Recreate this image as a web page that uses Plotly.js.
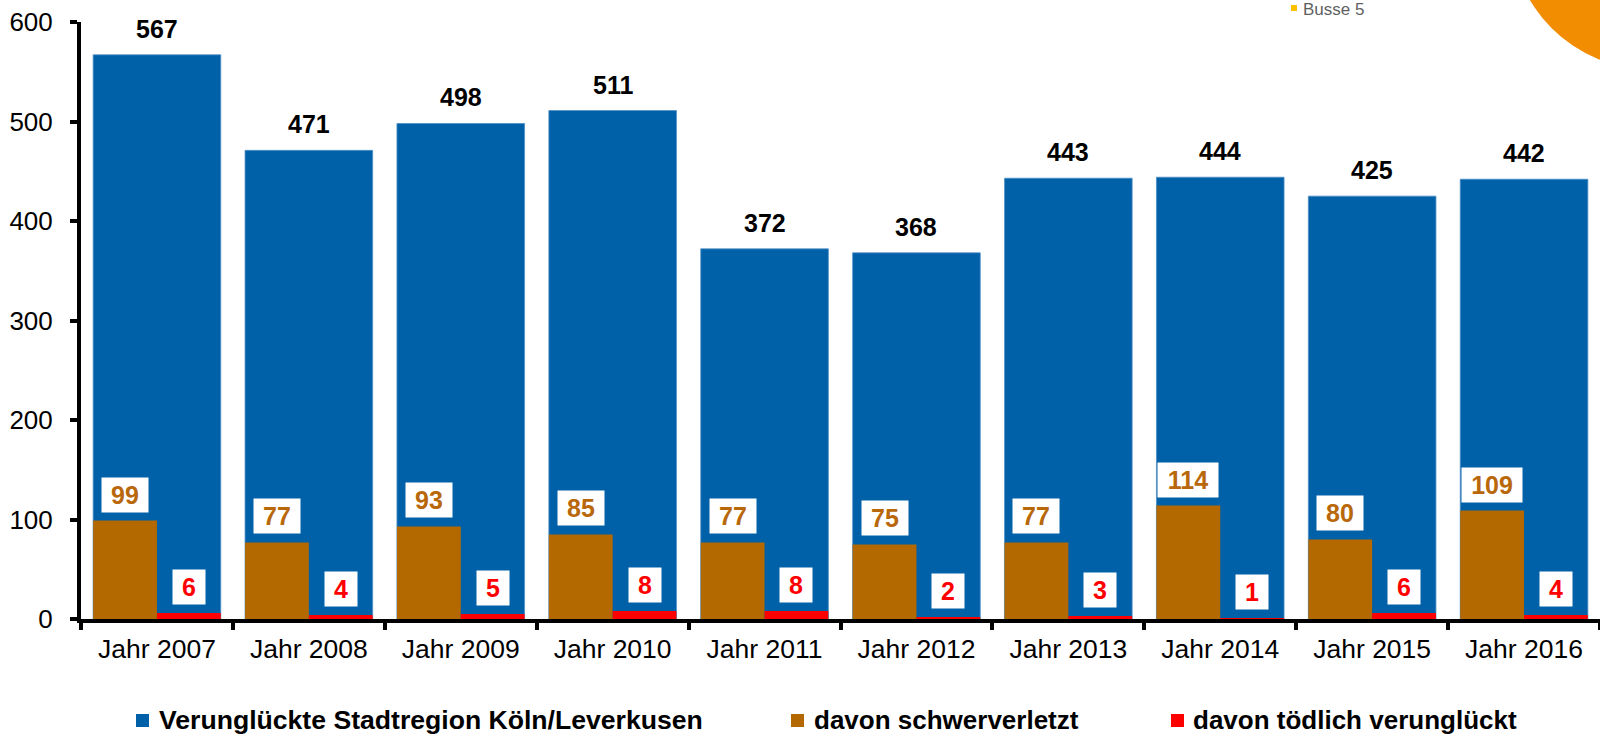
<!DOCTYPE html>
<html>
<head>
<meta charset="utf-8">
<script src="https://cdn.plot.ly/plotly-3.0.1.min.js"></script>
<style>html,body{margin:0;padding:0;background:#fff;}#chart{width:1600px;height:734px;}</style>
</head>
<body>
<div id="chart"></div>
<script>
const years = ["Jahr 2007","Jahr 2008","Jahr 2009","Jahr 2010","Jahr 2011","Jahr 2012","Jahr 2013","Jahr 2014","Jahr 2015","Jahr 2016"];
const verunglueckte = [567,471,498,511,372,368,443,444,425,442];
const schwerverletzt = [99,77,93,85,77,75,77,114,80,109];
const toedlich = [6,4,5,8,8,2,3,1,6,4];
const seriesNames = ["Verunglückte Stadtregion Köln/Leverkusen","davon schwerverletzt","davon tödlich verunglückt"];
const cornerText = "Busse 5";

const FONT = "Liberation Sans, Arial, Helvetica, sans-serif";
const BLUE = "#0060A8", BROWN = "#B46900", RED = "#FF0000", BROWNTXT = "#B8680A";
const W = 1600, H = 734, ML = 81, MR = 0, MT = 22, MB = 115;
const PW = W - ML - MR, PH = H - MT - MB;
const px = x => (x - ML) / PW;
const py = y => (H - MB - y) / PH;
const idx = years.map((_, i) => i);

const traces = [
  {type:'bar', x: years, y: verunglueckte, name: seriesNames[0], marker:{color:BLUE, line:{color:'#4d8fc6', width:0.8}}, width:0.84, offset:-0.42, hoverinfo:'y'},
  {type:'bar', x: years, y: schwerverletzt, name: seriesNames[1], marker:{color:BROWN}, width:0.42, offset:-0.42, hoverinfo:'y'},
  {type:'bar', x: years, y: toedlich, name: seriesNames[2], marker:{color:RED}, width:0.42, offset:0, hoverinfo:'y'}
];

const annotations = [];
idx.forEach(i => {
  annotations.push({x: i, y: verunglueckte[i], xref:'x', yref:'y', text: String(verunglueckte[i]), showarrow:false,
    yanchor:'bottom', yshift:10, font:{family:FONT, size:25, color:'#000', weight:'bold'}});
  const s = String(schwerverletzt[i]);
  annotations.push({x: i - 0.21, y: schwerverletzt[i], xref:'x', yref:'y', text: s, showarrow:false,
    yanchor:'bottom', yshift:8, bgcolor:'#fff', borderpad:3, width: s.length*14 + 12,
    font:{family:FONT, size:25, color:BROWNTXT, weight:'bold'}});
  const t = String(toedlich[i]);
  annotations.push({x: i + 0.21, y: toedlich[i], xref:'x', yref:'y', text: t, showarrow:false,
    yanchor:'bottom', yshift:8, bgcolor:'#fff', borderpad:3, width: t.length*14 + 12,
    font:{family:FONT, size:25, color:RED, weight:'bold'}});
});

// legend (drawn manually to match spacing)
const legendItems = [
  {sq: 136, tx: 157, color: BLUE, name: seriesNames[0], size: 26.6},
  {sq: 791, tx: 812, color: BROWN, name: seriesNames[1], size: 26},
  {sq: 1171, tx: 1191, color: RED, name: seriesNames[2], size: 26}
];
const shapes = [];
legendItems.forEach(it => {
  shapes.push({type:'rect', xref:'paper', yref:'paper', x0: px(it.sq), x1: px(it.sq+13), y0: py(727), y1: py(714),
    fillcolor: it.color, line:{width:0}});
  annotations.push({xref:'paper', yref:'paper', x: px(it.tx), y: py(720), xanchor:'left', yanchor:'middle',
    text: it.name, showarrow:false, font:{family:FONT, size:it.size, color:'#000', weight:'bold'}});
});

// corner decoration
shapes.push({type:'circle', xref:'paper', yref:'paper', x0: px(1511), x1: px(1789), y0: py(69), y1: py(-209),
  fillcolor:'#F28C00', line:{width:0}, layer:'above'});
shapes.push({type:'rect', xref:'paper', yref:'paper', x0: px(1291), x1: px(1297), y0: py(11), y1: py(5),
  fillcolor:'#FFC000', line:{width:0}});
annotations.push({xref:'paper', yref:'paper', x: px(1302), y: py(9), xanchor:'left', yanchor:'middle',
  text: cornerText, showarrow:false, borderpad:0, font:{family:FONT, size:17, color:'#5f5f5f'}});

const layout = {
  width: W, height: H,
  margin: {l: ML, r: MR, t: MT, b: MB, pad: 0},
  paper_bgcolor:'#fff', plot_bgcolor:'#fff',
  barmode:'overlay', showlegend:false,
  font:{family:FONT, color:'#000'},
  xaxis: {type:'category', range:[-0.5, 9.5], tickson:'boundaries', ticks:'outside', ticklen:7, tickwidth:4, tickcolor:'#000',
    showline:true, linecolor:'#000', linewidth:4, showgrid:false, zeroline:false,
    tickfont:{family:FONT, size:26.5, color:'#000'}, ticklabelstandoff:3, fixedrange:true},
  yaxis: {range:[0,600], dtick:100, tick0:0, ticks:'outside', ticklen:7, tickwidth:4, tickcolor:'#000',
    showline:true, linecolor:'#000', linewidth:4, showgrid:false, zeroline:false,
    tickfont:{family:FONT, size:26, color:'#000'}, ticklabelstandoff:12, fixedrange:true},
  annotations: annotations,
  shapes: shapes
};

Plotly.newPlot('chart', traces, layout, {displayModeBar:false, staticPlot:true});
</script>
</body>
</html>
